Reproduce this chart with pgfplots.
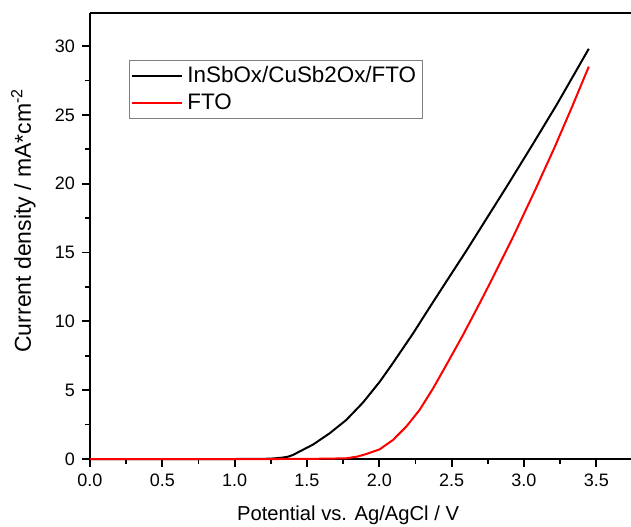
\documentclass[border=0pt]{standalone}
\usepackage{fontspec}
\setmainfont{Liberation Sans}
\usepackage{pgfplots}
\pgfplotsset{compat=1.18}

\begin{document}
\begin{tikzpicture}
\begin{axis}[
  at={(0,0)}, anchor=south west,
  scale only axis,
  width=270.5pt, height=223pt,
  xmin=0, xmax=3.74,
  ymin=0, ymax=32.4,
  clip=false,
  axis x line*=box,
  axis y line*=left,
  y axis line style={-},
  axis line style={line width=1.1pt, black},
  xtick={0,0.5,...,3.5},
  ytick={0,5,...,30},
  minor x tick num=1,
  minor y tick num=1,
  xtick pos=bottom, ytick pos=left,
  tick align=outside,
  major tick length=4pt,
  minor tick length=2.5pt,
  tick style={black, line width=0.9pt},
  /pgf/number format/assume math mode=true,
  xticklabel style={/pgf/number format/.cd, fixed, fixed zerofill, precision=1},
  tick label style={font=\fontsize{9}{10}\selectfont},
  xlabel={Potential vs. Ag/AgCl / V},
  ylabel={Current density / mA*cm\textsuperscript{-2}},
  xlabel style={font=\fontsize{10.1}{12}\selectfont,
    at={(rel axis cs:0.477,0)}, anchor=base, yshift=-30.5pt},
  ylabel style={font=\fontsize{11.5}{13}\selectfont,
    at={(rel axis cs:0,0.535)}, anchor=base, yshift=29.5pt},
  legend style={at={(rel axis cs:0.072,0.895)}, anchor=north west,
    draw=gray, line width=0.5pt, font=\fontsize{11.2}{13.5}\selectfont,
    inner xsep=1pt, inner ysep=1pt},
  legend cell align=left,
  legend image code/.code={\draw[#1] (0pt,0pt) -- (25pt,0pt);},
]
% InSbOx/CuSb2Ox/FTO
\addplot[black, line width=1pt] coordinates {
  (0,0)(1.0,0)(1.2,0.01)(1.27,0.04)(1.33,0.1)(1.37,0.17)(1.404,0.3)
  (1.45,0.55)(1.542,1.05)(1.657,1.87)(1.772,2.84)(1.887,4.1)(2.002,5.6)
  (2.083,6.8)(2.232,9.1)(2.347,11.0)(2.47,13.0)(2.6,15.1)(2.889,19.93)
  (3.06,22.85)(3.227,25.75)(3.448,29.8)
};
\addlegendentry{InSbOx/CuSb2Ox/FTO}
% FTO
\addplot[red, line width=1pt] coordinates {
  (0,0)(1.3,0)(1.6,0.02)(1.772,0.05)(1.85,0.18)(1.91,0.36)(2.002,0.7)
  (2.094,1.38)(2.186,2.35)(2.278,3.56)(2.37,5.1)(2.459,6.75)(2.578,9.0)
  (2.693,11.3)(2.781,13.1)(2.93,16.25)(3.08,19.6)(3.21,22.6)(3.333,25.6)
  (3.448,28.5)
};
\addlegendentry{FTO}
\end{axis}
\pgfresetboundingbox
\useasboundingbox (-45pt,-33.5pt) rectangle (270.5pt,229.5pt);
\end{tikzpicture}
\end{document}
